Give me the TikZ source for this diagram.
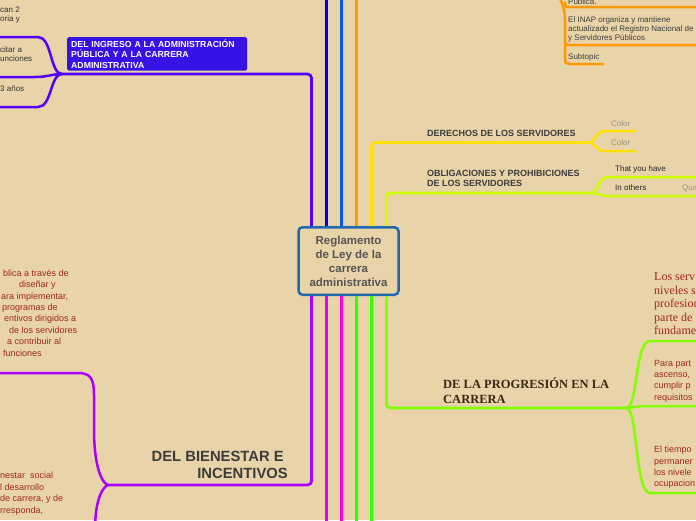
\documentclass[tikz,border=0pt]{standalone}
\usepackage{fontspec}
\setmainfont{Liberation Sans}
\newfontfamily\serifface{Liberation Serif}

\definecolor{paper}{RGB}{232,212,168}
\definecolor{rootblue}{RGB}{30,105,175}
\definecolor{rootgray}{RGB}{85,85,85}
\definecolor{labelgray}{RGB}{60,60,60}
\definecolor{leafgray}{RGB}{150,145,135}
\definecolor{notered}{RGB}{160,40,30}
\definecolor{progbrown}{RGB}{58,40,24}
\definecolor{ingresoline}{RGB}{85,0,255}
\definecolor{ingresobox}{RGB}{55,18,228}
\definecolor{navyline}{RGB}{0,0,235}
\definecolor{blueline}{RGB}{0,85,255}
\definecolor{orangeline}{RGB}{255,153,0}
\definecolor{yellowline}{RGB}{255,225,0}
\definecolor{limeline}{RGB}{204,255,0}
\definecolor{violetline}{RGB}{170,0,255}
\definecolor{magentaline}{RGB}{230,0,240}
\definecolor{pinkline}{RGB}{255,0,210}
\definecolor{greenline}{RGB}{50,255,0}
\definecolor{chartline}{RGB}{130,255,0}

\tikzset{
	trunk/.style={line width=2.8pt, rounded corners=4pt},
	twig/.style={line width=2.5pt, line cap=round},
	topic/.style={font=\fontsize{9}{10.5}\selectfont\bfseries, text=labelgray, align=left, inner sep=0pt, anchor=west},
	leaf/.style={font=\fontsize{8}{9}\selectfont, text=labelgray, align=left, inner sep=0pt, anchor=west},
	note/.style={font=\fontsize{9}{11.43}\selectfont, text=notered, align=left, inner sep=0pt, anchor=west},
}

\begin{document}
\begin{tikzpicture}[x=1pt,y=-1pt]

	% paper
	\fill[paper] (0,0) rectangle (696,520);
	\useasboundingbox (0,0) rectangle (696,520);

	% central topic
	\node[draw=rootblue, line width=2.5pt, rounded corners=4pt, minimum width=100pt, minimum height=67.5pt, inner sep=0pt, align=center, text=rootgray, font=\fontsize{11.5}{14}\selectfont\bfseries] (root) at (348.5,261) {Reglamento\\de Ley de la\\carrera\\administrativa};

	% junctions
	\coordinate (jin) at (62,74);
	\coordinate (jder) at (587,142.5);
	\coordinate (jobl) at (590,193);
	\coordinate (jbien) at (107,485);
	\coordinate (jprog) at (627,408);

	% trunks up
	\draw[trunk, ingresoline] ([xshift=-37pt]root.north) |- (jin);
	\draw[trunk, navyline] ([xshift=-22pt]root.north) -- ++(0,-232);
	\draw[trunk, blueline] ([xshift=-7pt]root.north) -- ++(0,-232);
	\draw[trunk, orangeline] ([xshift=8pt]root.north) -- ++(0,-232);
	\draw[trunk, yellowline] ([xshift=23pt]root.north) |- (jder);
	\draw[trunk, limeline] ([xshift=38pt]root.north) |- (jobl);

	% trunks down
	\draw[trunk, violetline] ([xshift=-37pt]root.south) |- (jbien);
	\draw[trunk, magentaline] ([xshift=-22pt]root.south) -- ++(0,230);
	\draw[trunk, pinkline] ([xshift=-7pt]root.south) -- ++(0,230);
	\draw[trunk, greenline] ([xshift=8pt]root.south) -- ++(0,230);
	\draw[trunk, greenline] ([xshift=23pt]root.south) -- ++(0,230);
	\draw[trunk, chartline] ([xshift=38pt]root.south) |- (jprog);

	% ingreso
	\draw[twig, ingresoline] (-5,37) -- (38,37) .. controls (52,37) and (50,74) .. (jin);
	\draw[twig, ingresoline] (-5,77) -- (35,77) .. controls (48,77) and (52,74) .. (jin);
	\draw[twig, ingresoline] (-5,107) -- (38,107) .. controls (52,107) and (50,74) .. (jin);
	\node[fill=ingresobox, text=white, rounded corners=1.5pt, font=\fontsize{8.7}{10.3}\selectfont\bfseries, align=left, text width=172pt, inner xsep=4pt, inner ysep=2.5pt, anchor=north west] (ingreso) at (67,37) {DEL INGRESO A LA ADMINISTRACIÓN\\PÚBLICA Y A LA CARRERA\\ADMINISTRATIVA};
	\node[leaf, text=black!80] (alcanzan) at (0,15) {can 2\\oria y};
	\node[leaf, text=black!80] (capacitar) at (0,54) {citar a\\unciones};
	\node[leaf, text=black!80] (anios) at (0,89) {3 años};

	% derechos
	\node[topic] (derechos) at (427,133) {DERECHOS DE LOS SERVIDORES};
	\draw[twig, yellowline] (jder) .. controls (597,142.5) and (595,131) .. (605,131) -- (635,131);
	\draw[twig, yellowline] (jder) .. controls (597,142.5) and (595,151) .. (605,151) -- (635,151);
	\node[leaf, text=leafgray] (color1) at (611,124) {Color};
	\node[leaf, text=leafgray] (color2) at (611,143) {Color};

	% obligaciones
	\node[topic] (obligaciones) at (427,178.5) {OBLIGACIONES Y PROHIBICIONES\\DE LOS SERVIDORES};
	\draw[twig, limeline] (jobl) .. controls (600,193) and (597,177) .. (608,177) -- (700,177);
	\draw[twig, limeline] (jobl) .. controls (598,193) and (600,196) .. (610,196) -- (700,196);
	\node[leaf, text=black!85] (have) at (615,169) {That you have};
	\node[leaf, text=black!85] (others) at (615,188) {In others};
	\node[leaf, text=leafgray] (qua) at (682,188) {Qua};

	% registro
	\draw[twig, orangeline] (559,-5) .. controls (562,5) and (565,8) .. (565,20) -- (565,59) .. controls (565,63) .. (570,64) -- (603,64);
	\draw[twig, orangeline] (565,2) .. controls (565,7) .. (570,7) -- (700,7);
	\draw[twig, orangeline] (565,40) .. controls (565,45) .. (570,45) -- (700,45);
	\node[leaf] (publica) at (568,1.5) {Pública.};
	\node[leaf] (inap) at (568,29.3) {El INAP organiza y mantiene\\actualizado el Registro Nacional de\\y Servidores Públicos};
	\node[leaf] (subtopic) at (568,57) {Subtopic};

	% bienestar
	\draw[twig, violetline] (jbien) .. controls (98,478) and (94,455) .. (94,430) -- (94,395) .. controls (94,378) and (90,373) .. (78,373) -- (-5,373);
	\draw[twig, violetline] (jbien) .. controls (99,492) and (96,505) .. (95,525);
	\node[font=\fontsize{14.8}{17}\selectfont\bfseries, text=labelgray, align=right, inner sep=0pt, anchor=east] (bienestar) at (288,464.5) {DEL BIENESTAR E\hspace*{4pt}\\INCENTIVOS};
	\node[note] (politica) at (0,313) {\hspace*{3pt}blica a través de\\\hspace*{19pt}diseñar y\\\hspace*{1pt}ara implementar,\\\hspace*{2pt}programas de\\\hspace*{4pt}entivos dirigidos a\\\hspace*{9pt}de los servidores\\\hspace*{7pt}a contribuir al\\\hspace*{3pt}funciones};
	\node[note, font=\fontsize{9}{11.67}\selectfont] (social) at (0,493.5) {nestar\ \ social\\l desarrollo\\de carrera, y de\\rresponda,};

	% progresion
	\node[font=\serifface\fontsize{12.5}{15}\selectfont\bfseries, text=progbrown, align=left, inner sep=0pt, anchor=west] (progresion) at (443,390.5) {DE LA PROGRESIÓN EN LA\\CARRERA};
	\draw[twig, chartline] (jprog) .. controls (638,404) and (635,341) .. (650,341) -- (700,341);
	\draw[twig, chartline] (jprog) .. controls (635,407) and (640,406) .. (650,406) -- (700,406);
	\draw[twig, chartline] (jprog) .. controls (638,412) and (635,493) .. (650,493) -- (700,493);
	\node[font=\serifface\fontsize{12}{13.5}\selectfont, text=notered, align=left, inner sep=0pt, anchor=west] (niveles) at (654,304) {Los serv\\niveles s\\profesion\\parte de\\fundame};
	\node[note, font=\fontsize{9}{11.3}\selectfont] (ascenso) at (654,381) {Para part\\ascenso,\\cumplir p\\requisitos};
	\node[note, font=\fontsize{9}{11.3}\selectfont] (tiempo) at (654,467.5) {El tiempo\\permaner\\los nivele\\ocupacion};

\end{tikzpicture}
\end{document}
